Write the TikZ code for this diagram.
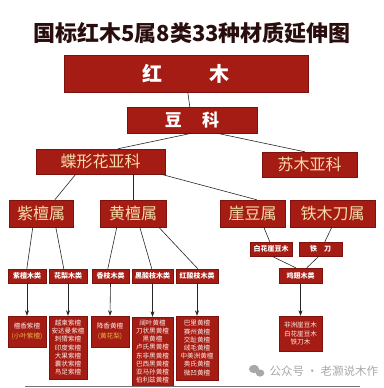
\documentclass[tikz,border=0pt]{standalone}
\usepackage{fontspec}
\setmainfont{Noto Sans CJK SC}
\usetikzlibrary{calc,arrows.meta}
\definecolor{boxred}{HTML}{A51C14}
\definecolor{boxedge}{HTML}{7E120C}
\definecolor{cream}{HTML}{F5DDA8}
\definecolor{titlecol}{HTML}{2A0E0E}
\definecolor{lightt}{HTML}{FBEAE4}
\definecolor{yel}{HTML}{EDB54A}
\definecolor{wm}{HTML}{A8A8A8}
\begin{document}
\begin{tikzpicture}[x=1pt,y=-1pt,
  box/.style={fill=boxred, draw=boxedge, line width=0.4pt, inner sep=0pt, align=center},
  topbox/.style={box, text=white, font=\fontsize{20}{24}\selectfont\bfseries},
  subbox/.style={box, text=cream, font=\fontsize{16}{19}\selectfont, minimum height=25pt},
  genbox/.style={box, text=cream, font=\fontsize{16}{19}\selectfont, minimum height=27pt},
  clsbox/.style={box, text=white, font=\fontsize{7}{8}\selectfont\bfseries, minimum height=14pt},
  spbox/.style={box, text=lightt, font=\fontsize{6.6}{8.2}\selectfont},
  conn/.style={draw=black!85, line width=0.6pt},
  arr/.style={conn, -{Stealth[length=5.5pt,width=4pt]}}
]
\useasboundingbox (0,0) rectangle (383,388);

% title
\node[text=titlecol, font=\fontsize{22}{26}\selectfont\bfseries] (title) at (192,33) {国标红木5属8类33种材质延伸图};

% level boxes
\node[topbox, minimum width=244pt, minimum height=37pt] (hongmu) at (186,73.5) {红\hspace{2.4em}木};
\node[topbox, font=\fontsize{17}{20}\selectfont\bfseries, minimum width=130pt, minimum height=26pt] (douke) at (192,120) {豆\hspace{1.2em}科};
\node[subbox, minimum width=129pt] (diexing) at (100.5,161.5) {蝶形花亚科};
\node[subbox, minimum width=95pt] (sumu) at (309.5,164.5) {苏木亚科};

\node[genbox, minimum width=64pt] (zitan) at (41,213.5) {紫檀属};
\node[genbox, minimum width=66pt] (huangtan) at (133,213.5) {黄檀属};
\node[genbox, minimum width=65pt] (yadou) at (252.5,213.5) {崖豆属};
\node[genbox, minimum width=85pt] (tiemu) at (332.5,213.5) {铁木刀属};

\node[clsbox, minimum width=38pt] (c1) at (27,276) {紫檀木类};
\node[clsbox, minimum width=38pt] (c2) at (68,276) {花梨木类};
\node[clsbox, minimum width=37pt] (c3) at (110.5,276) {香枝木类};
\node[clsbox, minimum width=41pt] (c4) at (152.5,276) {黑酸枝木类};
\node[clsbox, minimum width=42pt] (c5) at (197,276) {红酸枝木类};
\node[clsbox, minimum width=42pt] (baihua) at (271,249) {白花崖豆木};
\node[clsbox, minimum width=43pt] (tiedao) at (320.5,249) {铁\hspace{1em}刀};
\node[clsbox, minimum width=43pt, minimum height=15pt] (jichi) at (300.5,275.5) {鸡翅木类};

\node[spbox, minimum width=38pt, minimum height=31pt] (s1) at (27,331.5) {檀香紫檀\\[2pt]\textcolor{yel}{(小叶紫檀)}};
\node[spbox, minimum width=38pt, minimum height=63pt] (s2) at (68,347.5) {越柬紫檀\\安达曼紫檀\\刺猬紫檀\\印度紫檀\\大果紫檀\\囊状紫檀\\鸟足紫檀};
\node[spbox, minimum width=38pt, minimum height=31pt] (s3) at (110,331.5) {降香黄檀\\[2pt]\textcolor{yel}{(黄花梨)}};
\node[spbox, minimum width=41pt, minimum height=69pt] (s4) at (152.5,351.5) {阔叶黄檀\\刀状黑黄檀\\黑黄檀\\卢氏黑黄檀\\东非黑黄檀\\巴西黑黄檀\\亚马孙黄檀\\伯利兹黄檀};
\node[spbox, minimum width=42pt, minimum height=64pt] (s5) at (197,348) {巴里黄檀\\赛州黄檀\\交趾黄檀\\绒毛黄檀\\中美洲黄檀\\奥氏黄檀\\微凹黄檀};
\node[spbox, minimum width=43pt, minimum height=35pt] (s6) at (300.5,333.5) {非洲崖豆木\\白花崖豆木\\铁刀木};

% connectors
\draw[conn] ($(hongmu.south west)+(124,0)$) -- ($(douke.north west)+(63,0)$);
\draw[conn] ($(douke.south west)+(65,0)$) -- ($(diexing.north west)+(82,0)$);
\draw[conn] ($(douke.south west)+(90,0)$) -- ($(sumu.north west)+(43,0)$);
\draw[conn] ($(diexing.south west)+(40,0)$) -- ($(zitan.north west)+(46,0)$);
\draw[conn] ($(diexing.south west)+(97,0)$) -- ($(huangtan.north west)+(33,0)$);
\draw[conn] ($(diexing.south west)+(125,0)$) -- ($(yadou.north west)+(37,0)$);
\draw[conn] ($(zitan.south west)+(24,0)$) -- ($(c1.north west)+(19,0)$);
\draw[conn] ($(zitan.south west)+(47,0)$) -- ($(c2.north west)+(15,0)$);
\draw[conn] ($(huangtan.south west)+(17,0)$) -- ($(c3.north west)+(16,0)$);
\draw[conn] ($(huangtan.south west)+(40,0)$) -- ($(c4.north west)+(20,0)$);
\draw[conn] ($(huangtan.south west)+(59,0)$) -- ($(c5.north west)+(22,0)$);
\draw[conn] ($(yadou.south west)+(44,0)$) -- ($(baihua.north west)+(20,0)$);
\draw[conn] ($(tiemu.south west)+(42,0)$) -- ($(tiedao.north west)+(26,0)$);
\draw[conn] ($(baihua.south west)+(22,0)$) -- ($(jichi.north west)+(17,0)$);
\draw[conn] ($(tiedao.south west)+(20,0)$) -- ($(jichi.north west)+(28,0)$);

\draw[arr] (c1.south) -- (s1.north);
\draw[arr] (c2.south) -- (s2.north);
\draw[arr] (c3.south) -- (s3.north);
\draw[arr] (c4.south) -- (s4.north);
\draw[arr] (c5.south) -- (s5.north);
\draw[arr] (jichi.south) -- (s6.north);

% bottom rule
\draw[draw=black!55, line width=0.6pt] (25,386.5) -- (360,386.5);

% watermark
\fill[wm] (254,369) ellipse (5pt and 4.2pt);
\fill[wm] (260,373) ellipse (4.3pt and 3.6pt);
\node[text=wm, font=\fontsize{11.5}{13}\selectfont, anchor=west] (wmark) at (266,371) {公众号 · 老灏说木作};
\end{tikzpicture}
\end{document}
